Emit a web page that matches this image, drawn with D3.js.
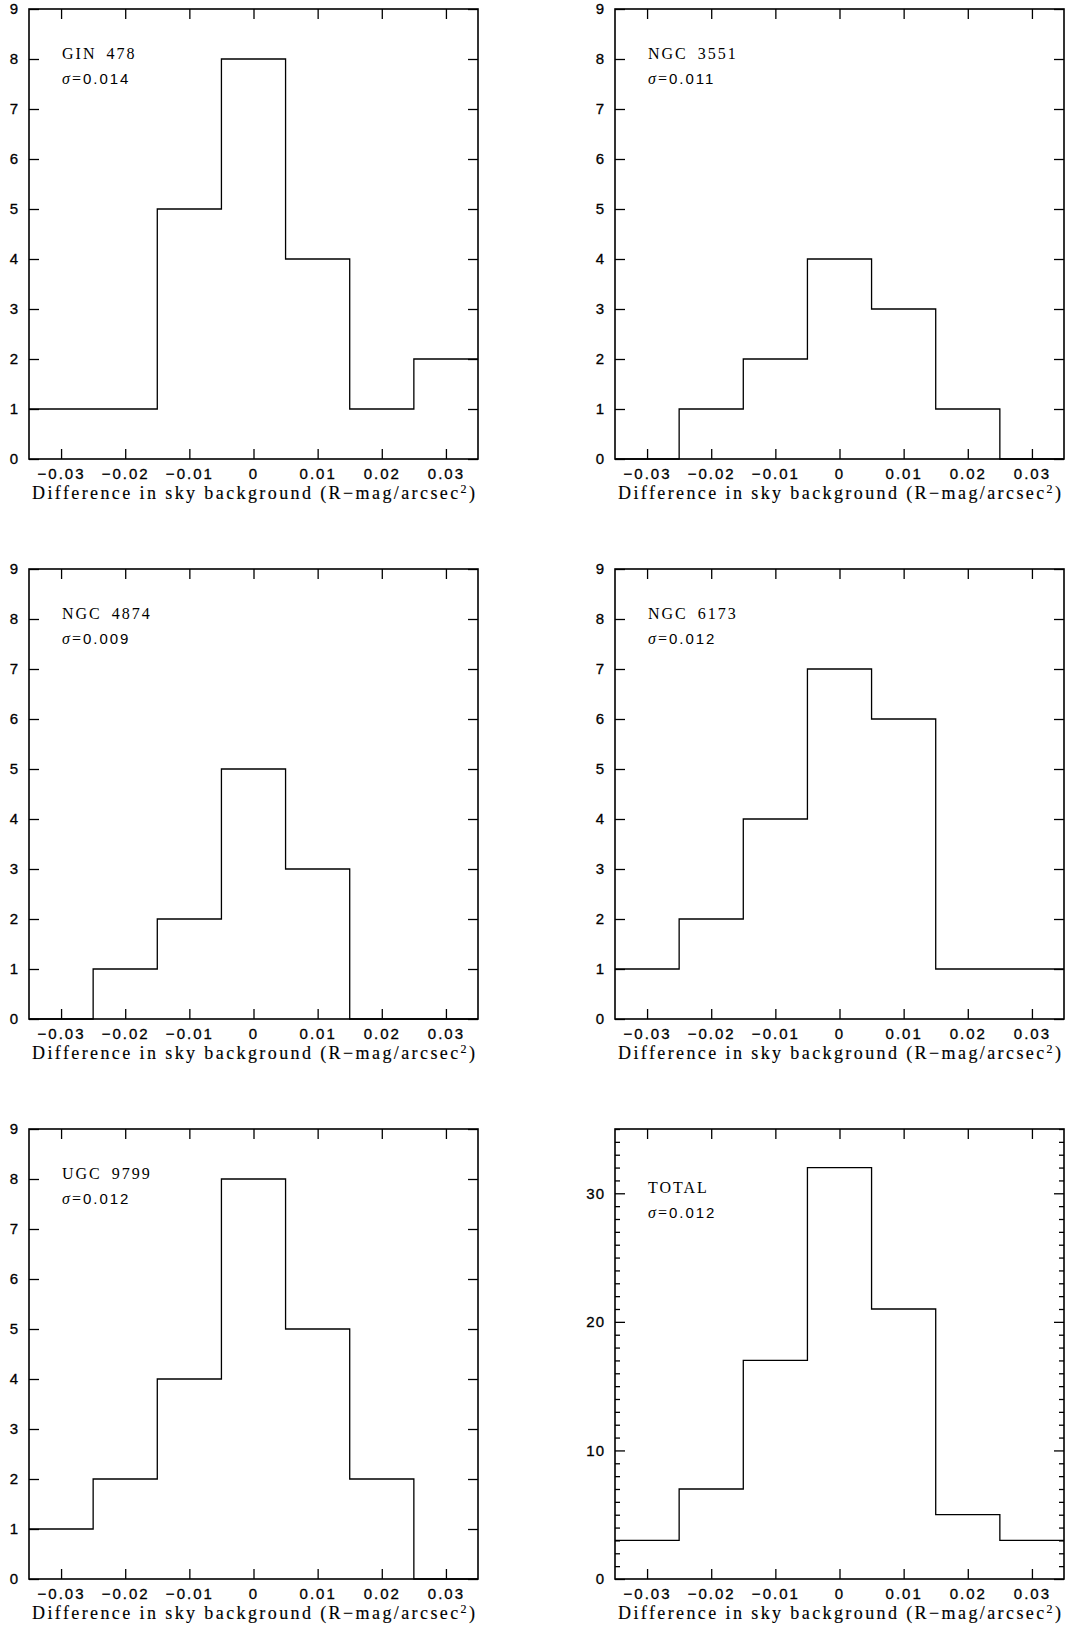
<!DOCTYPE html>
<html>
<head>
<meta charset="utf-8">
<script src="https://cdn.jsdelivr.net/npm/d3@7"></script>
<style>
  body { margin: 0; background: #fff; }
  svg { display: block; }
  .tick text { font-family: "Liberation Sans", Arial, sans-serif; font-size: 15px; letter-spacing: 2px; fill: #000; stroke: #000; stroke-width: 0.3px; }
  .tick line { stroke: #000; stroke-width: 1.3; }
  .xlabel { font-family: "Liberation Serif", serif; font-size: 18px; stroke: #000; stroke-width: 0.15px; }
  .note { font-family: "Liberation Serif", serif; font-size: 16px; letter-spacing: 2px; }
</style>
</head>
<body>
<svg id="chart"></svg>
<script>
/* data: counts per 0.01 bin */
var binCenters = [-0.03, -0.02, -0.01, 0, 0.01, 0.02, 0.03]
var binWidth = 0.01

var gin478  = [1, 1, 5, 8, 4, 1, 2]
var ngc3551 = [0, 1, 2, 4, 3, 1, 0]
var ngc4874 = [0, 1, 2, 5, 3, 0, 0]
var ngc6173 = [1, 2, 4, 7, 6, 1, 1]
var ugc9799 = [1, 2, 4, 8, 5, 2, 0]
var total   = [3, 7, 17, 32, 21, 5, 3]

var names  = ["GIN 478", "NGC 3551", "NGC 4874", "NGC 6173", "UGC 9799", "TOTAL"]
var sigmas = ["0.014", "0.011", "0.009", "0.012", "0.012", "0.012"]
var counts = [gin478, ngc3551, ngc4874, ngc6173, ugc9799, total]

var xTicks = [-0.03, -0.02, -0.01, 0, 0.01, 0.02, 0.03]
var xDomain = [-0.035, 0.035]

/* y range per panel: small panels go to 9, total panel to 35 */
var yMax = [9, 9, 9, 9, 9, 35]
var yMajorStep = [1, 1, 1, 1, 1, 10]
var yMinorStep = [0, 0, 0, 0, 0, 1]
var noteY = [8, 8, 8, 8, 8, 30]

/**********************
* layout
**********************/
var W = 1067, H = 1627
var panel_w = 449
var panel_h = 450
var col_x = [29, 615]
var row_y = [9, 569, 1129]

var svg = d3.select("#chart")
    .attr("width", W)
    .attr("height", H)

svg.append("rect").attr("width", W).attr("height", H).attr("fill", "#fff")

var fmtX = function(v) {
    if (Math.abs(v) < 1e-9) return "0"
    return d3.format(".2f")(v)
}

function display_panel(i) {
    var px = col_x[i % 2]
    var py = row_y[Math.floor(i / 2)]

    var x = d3.scaleLinear().domain(xDomain).range([0, panel_w])
    var y = d3.scaleLinear().domain([0, yMax[i]]).range([panel_h, 0])

    var g = svg.append("g").attr("transform", "translate(" + px + "," + py + ")")

    /* ticks: inward, on all four sides */
    g.append("g")
        .attr("transform", "translate(0," + panel_h + ")")
        .call(d3.axisBottom(x).tickValues(xTicks).tickSize(-10).tickPadding(9).tickFormat(fmtX))
    g.append("g")
        .call(d3.axisTop(x).tickValues(xTicks).tickSize(-10).tickFormat(""))

    var majors = d3.range(0, yMax[i] + 0.001, yMajorStep[i])
    var gl = g.append("g")
        .call(d3.axisLeft(y).tickValues(majors).tickSize(-10).tickPadding(10).tickFormat(d3.format("d")))
    g.append("g")
        .attr("transform", "translate(" + panel_w + ",0)")
        .call(d3.axisRight(y).tickValues(majors).tickSize(-10).tickFormat(""))

    if (yMinorStep[i] > 0) {
        var minors = d3.range(0, yMax[i] + 0.001, yMinorStep[i]).filter(function(v) { return v % yMajorStep[i] != 0 })
        g.append("g")
            .call(d3.axisLeft(y).tickValues(minors).tickSize(-5).tickFormat(""))
        g.append("g")
            .attr("transform", "translate(" + panel_w + ",0)")
            .call(d3.axisRight(y).tickValues(minors).tickSize(-5).tickFormat(""))
    }

    g.selectAll(".domain").remove()
    g.selectAll("g").attr("font-family", null).attr("font-size", null)
    gl.selectAll("text").style("letter-spacing", "1px")

    /* histogram as a step line */
    var pts = binCenters.map(function(c, k) { return [c - binWidth / 2, counts[i][k]] })
    pts.push([binCenters[binCenters.length - 1] + binWidth / 2, counts[i][counts[i].length - 1]])

    var line = d3.line()
        .x(function(d) { return x(d[0]) })
        .y(function(d) { return y(d[1]) })
        .curve(d3.curveStepAfter)

    g.append("path")
        .datum(pts)
        .attr("fill", "none")
        .attr("stroke", "#000")
        .attr("stroke-width", 1.3)
        .attr("d", line)

    /* frame */
    g.append("rect")
        .attr("width", panel_w)
        .attr("height", panel_h)
        .attr("fill", "none")
        .attr("stroke", "#000")
        .attr("stroke-width", 1.6)

    /* name and sigma */
    g.append("text")
        .attr("class", "note")
        .attr("x", 33)
        .attr("y", y(noteY[i]))
        .style("word-spacing", "4px")
        .text(names[i])

    var s = g.append("text")
        .attr("class", "note")
        .attr("x", 33)
        .attr("y", y(noteY[i]) + 25)
    s.append("tspan").style("font-style", "italic").text("σ")
    s.append("tspan").text("=")
    s.append("tspan")
        .style("font-family", "'Liberation Sans', Arial, sans-serif")
        .style("font-size", "15px")
        .style("letter-spacing", "2px")
        .text(sigmas[i])

    /* x axis label */
    var lab = g.append("text")
        .attr("class", "xlabel")
        .attr("x", panel_w / 2)
        .attr("y", panel_h + 40)
        .attr("text-anchor", "middle")
        .attr("textLength", 443)
        .attr("lengthAdjust", "spacing")
    lab.append("tspan").text("Difference in sky background (R−mag/arcsec")
    lab.append("tspan").style("font-size", "12px").attr("dy", -6).text("2")
    lab.append("tspan").attr("dy", 6).text(")")
}

for (var i = 0; i < names.length; i++) {
    display_panel(i)
}
</script>
</body>
</html>
